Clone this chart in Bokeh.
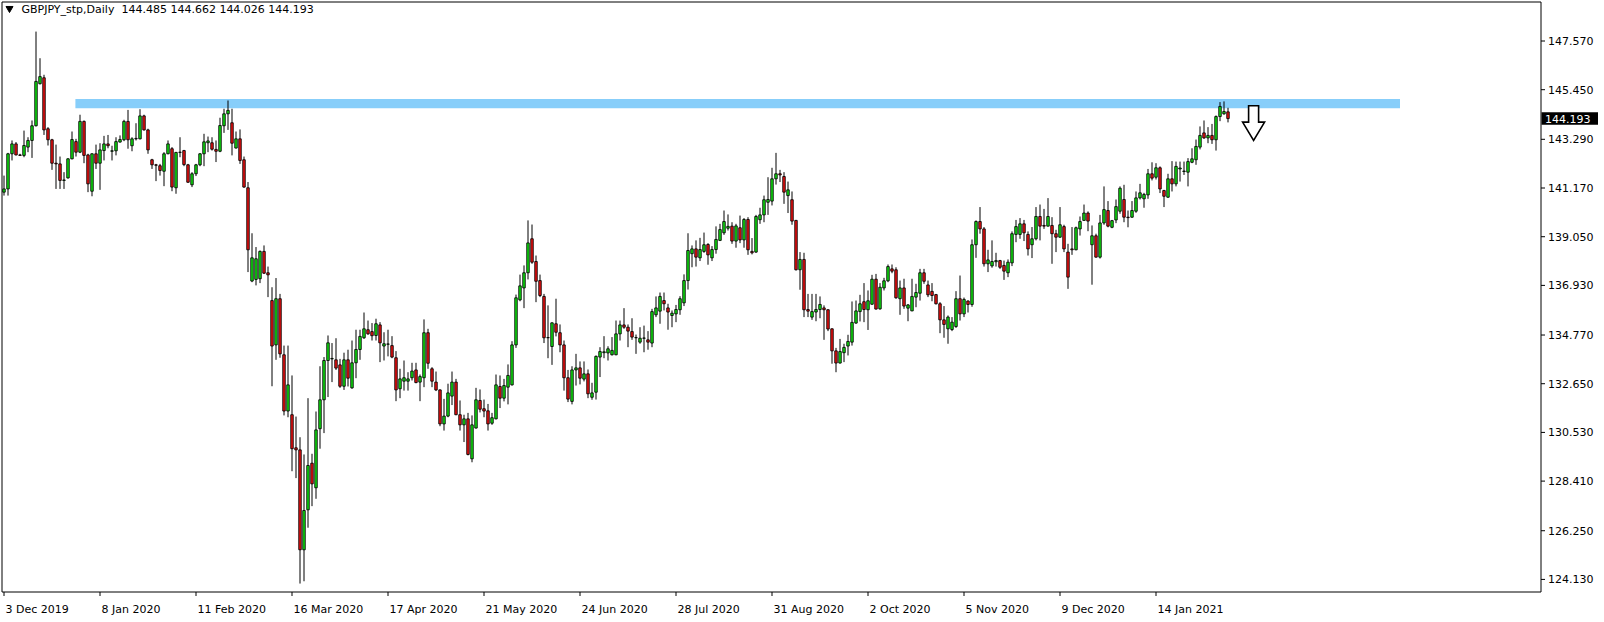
from bokeh.plotting import figure
from bokeh.models import ColumnDataSource, Range1d
from bokeh.core.properties import value
from bokeh.embed import file_html
from bokeh.resources import INLINE

symbol = "GBPJPY_stp,Daily"
last_ohlc = [144.485, 144.662, 144.026, 144.193]

opens = [140.99,141.13,142.66,143.09,142.61,142.59,142.95,143.24,143.88,145.71,
145.97,143.75,143.27,142.25,142.22,141.50,141.61,142.44,143.19,142.73,
144.07,142.61,141.03,142.66,142.25,142.80,143.09,142.77,142.79,143.17,
143.27,144.07,143.01,143.31,143.31,144.31,143.70,142.40,142.18,142.14,
141.90,142.66,142.88,141.18,142.72,142.80,142.18,141.31,141.79,142.18,
142.66,143.14,143.14,142.85,142.77,143.88,144.40,144.01,142.91,143.31,
142.40,141.18,137.12,137.19,137.22,138.41,137.48,136.27,134.34,136.35,
133.91,131.46,131.30,129.86,129.77,125.42,127.16,129.19,128.12,130.69,
131.95,133.66,133.73,133.69,133.47,132.54,133.69,132.47,133.56,134.14,
134.65,135.00,134.92,134.75,135.21,134.29,134.37,134.31,133.78,132.43,
132.76,132.76,132.91,133.25,132.72,132.91,134.87,133.30,132.72,132.38,
130.90,131.24,132.11,132.72,131.30,130.86,131.12,129.38,130.72,131.92,
131.56,131.47,130.93,131.12,132.53,132.02,132.50,132.60,134.34,136.30,
136.82,137.48,138.96,137.97,137.14,136.45,134.65,134.27,135.26,134.87,
134.34,132.91,131.88,133.25,133.34,132.85,133.08,132.06,132.28,133.81,
134.00,133.99,133.91,133.91,134.82,135.21,135.11,134.92,134.65,134.46,
134.63,134.56,134.42,135.65,135.81,136.27,135.95,135.62,135.69,135.87,
136.17,137.14,138.31,138.52,138.13,138.41,138.71,138.13,138.49,138.89,
139.22,139.42,139.51,138.86,139.44,138.91,139.80,138.41,138.38,139.79,
140.00,140.55,140.60,141.57,141.79,141.67,140.84,140.66,139.76,137.61,
138.06,135.88,135.55,135.77,135.88,135.95,135.87,135.04,134.08,133.55,
134.00,134.29,134.46,135.29,135.79,136.22,135.87,136.11,137.20,135.91,
136.82,137.13,137.65,137.61,136.35,136.82,135.94,135.82,136.42,136.59,
137.48,136.95,136.67,136.53,136.13,135.43,135.04,135.01,135.14,136.35,
135.69,136.25,136.10,138.70,139.71,139.39,137.87,137.78,137.96,138.01,
137.80,137.48,137.91,139.15,139.15,139.61,139.15,138.70,138.96,139.93,
139.54,139.51,139.54,139.18,139.03,139.49,138.38,138.52,138.48,139.39,
139.76,140.08,138.70,139.09,138.16,139.65,140.19,139.46,139.78,140.16,
140.67,139.90,139.90,140.16,140.74,140.70,140.87,141.79,141.64,142.05,
141.06,140.77,141.57,141.35,142.00,141.89,141.86,142.29,142.40,142.95,
143.57,143.35,143.46,143.27,144.28,144.40,144.485]

highs = [141.71,142.70,143.24,143.17,142.66,143.67,143.38,144.11,147.98,146.82,
146.10,143.82,143.31,143.06,142.54,141.86,142.47,143.63,143.31,144.36,
144.11,142.66,142.68,143.06,143.12,143.44,143.48,143.01,143.38,143.46,
144.14,144.57,143.38,143.99,144.60,144.36,143.75,142.44,142.22,142.22,
142.73,143.24,142.95,142.74,143.38,142.83,142.22,141.86,142.22,142.69,
143.53,143.41,143.38,143.24,144.23,144.62,144.98,144.62,143.63,143.72,
142.54,141.43,139.20,138.60,138.45,138.67,137.75,136.85,137.25,136.56,
134.31,134.31,133.01,131.22,130.32,129.57,132.02,129.60,131.44,133.41,
133.81,134.75,134.42,134.63,133.73,134.00,134.13,134.53,135.00,135.00,
135.75,135.40,135.29,135.48,135.33,134.89,135.00,134.72,134.07,133.30,
133.66,133.15,133.56,133.56,133.05,135.45,135.04,133.37,133.18,132.40,
131.99,132.65,133.18,132.86,131.92,131.30,131.38,131.27,132.47,132.40,
131.96,131.77,131.38,133.05,133.01,132.86,133.49,134.50,136.53,137.40,
137.80,139.76,139.58,138.23,137.40,136.56,136.06,135.32,136.35,135.23,
134.53,133.25,133.41,133.95,133.62,133.62,133.27,132.69,133.88,134.24,
134.72,134.28,134.68,135.40,135.40,135.94,135.23,135.50,134.79,135.11,
135.18,134.94,135.91,136.45,136.62,136.62,136.13,135.84,136.08,136.46,
137.41,139.20,138.67,138.89,139.00,139.23,138.77,138.64,139.50,139.61,
140.19,140.02,139.68,139.61,139.97,139.86,139.90,138.99,140.00,140.31,
140.84,141.64,142.05,142.70,141.96,141.86,141.45,141.02,139.78,138.38,
138.35,136.56,136.56,136.56,136.45,136.06,135.89,135.06,134.21,134.60,
134.39,134.78,136.23,136.27,136.52,137.03,136.71,137.39,137.43,137.03,
137.26,137.84,137.84,137.72,137.14,137.22,136.12,137.22,137.00,137.65,
137.65,137.14,137.03,136.56,136.20,136.03,135.62,135.55,136.68,137.36,
136.40,136.28,138.93,139.76,140.34,139.47,138.48,138.89,138.35,138.04,
138.01,138.06,139.28,139.78,139.86,139.78,139.28,139.47,140.34,140.45,
140.26,140.73,139.90,139.35,140.34,139.57,138.74,139.47,139.49,139.93,
140.45,140.15,139.54,139.18,140.00,141.24,140.60,139.78,140.67,141.24,
141.31,140.19,140.60,141.02,141.35,140.96,142.00,142.29,142.25,142.11,
141.09,141.79,142.34,142.32,142.32,142.32,142.47,142.90,143.28,143.85,
144.11,143.82,143.96,144.33,144.91,144.94,144.662]

lows = [140.84,140.84,142.37,142.59,142.57,142.51,142.73,142.48,143.85,145.68,
143.48,143.02,141.96,141.13,141.13,141.13,141.58,142.42,142.54,142.69,
142.25,140.99,140.81,142.00,141.09,142.37,142.90,142.37,142.59,143.15,
143.21,142.88,142.77,143.24,143.29,143.67,142.66,142.00,141.47,141.71,
141.25,142.64,141.03,140.92,142.51,142.12,141.40,141.21,141.69,142.12,
142.12,142.73,142.80,142.30,142.73,143.57,143.70,142.59,142.89,142.22,
141.18,137.51,137.07,136.93,137.03,137.43,136.42,132.54,133.69,133.78,
131.27,131.19,128.84,128.54,123.95,124.05,126.38,127.32,127.64,129.82,
130.50,132.07,132.72,133.25,132.47,132.38,132.53,132.43,132.89,133.69,
134.60,134.78,134.53,134.53,133.59,133.66,133.84,133.76,131.89,132.02,
132.35,132.35,132.79,132.67,131.89,132.50,133.30,132.50,132.33,130.80,
130.61,131.19,131.72,131.28,130.61,130.11,129.53,129.23,130.70,131.40,
131.19,130.61,130.86,131.10,131.59,131.88,131.75,132.57,134.21,136.24,
135.94,137.19,137.87,136.20,136.42,134.42,133.76,133.47,134.71,134.02,
132.35,131.85,131.75,132.57,132.62,132.75,132.02,131.95,131.96,132.94,
133.76,133.66,133.88,133.89,134.53,135.04,134.24,134.56,133.95,134.39,
134.02,134.13,134.24,135.55,135.26,135.84,135.00,135.11,135.33,135.65,
136.03,136.75,137.72,137.75,137.99,138.35,137.83,137.99,138.31,138.86,
139.13,139.32,138.74,138.57,138.77,138.57,138.26,138.28,138.35,139.61,
139.68,140.00,140.41,141.32,141.43,140.48,140.08,139.57,137.58,136.74,
135.55,135.55,135.43,135.37,135.50,134.56,134.94,133.52,133.15,133.53,
133.59,133.88,134.31,135.26,135.36,135.33,134.99,136.09,135.88,135.87,
136.71,137.07,137.46,136.35,135.65,135.91,135.37,135.81,135.98,136.27,
137.00,136.42,136.24,136.10,134.85,134.65,134.39,134.94,135.08,135.40,
135.55,135.75,136.00,138.13,139.18,137.75,137.51,137.70,137.75,137.65,
137.17,137.29,137.77,138.81,138.96,138.86,138.23,138.12,138.89,138.89,
139.39,139.50,137.87,138.38,139.00,138.38,136.78,138.26,138.46,139.10,
139.74,139.29,136.96,138.14,138.10,139.57,139.46,139.42,139.64,140.05,
139.68,139.46,139.87,140.09,140.67,140.31,140.70,141.50,141.54,140.95,
140.34,140.74,141.02,141.24,141.45,141.74,141.24,142.25,142.18,142.85,
143.31,143.12,143.09,142.80,144.08,144.36,144.026]

closes = [141.13,142.66,143.09,142.61,142.59,143.02,143.24,143.88,145.81,146.02,
143.70,143.27,142.25,142.22,141.50,141.52,142.44,143.28,142.73,144.07,
142.59,141.35,142.66,142.25,142.83,143.09,143.01,142.79,143.19,143.28,
144.07,143.27,143.31,143.33,144.31,143.70,142.83,142.18,142.16,141.93,
142.66,143.09,141.21,142.72,142.73,142.19,141.42,141.79,142.18,142.66,
143.18,143.22,142.86,142.77,143.89,144.40,144.55,143.12,143.31,142.37,
141.21,138.48,138.13,138.09,138.41,137.46,137.39,134.29,136.35,133.95,
131.46,132.60,129.82,129.77,125.42,127.13,129.09,128.29,130.64,131.95,
133.66,134.43,133.75,133.33,132.54,133.69,132.89,133.56,134.14,134.71,
135.04,134.82,134.74,135.26,134.43,134.39,134.38,133.81,132.38,132.86,
132.91,132.86,133.20,132.70,132.96,134.87,133.54,132.76,132.38,130.90,
131.24,132.25,132.72,131.30,130.86,131.12,129.57,130.86,131.95,131.54,
131.46,130.90,131.17,132.60,132.02,132.57,133.01,134.34,136.39,136.91,
137.48,138.78,137.94,137.11,136.49,134.65,134.66,135.30,134.89,134.34,
132.91,131.98,133.25,133.34,132.89,133.08,132.21,132.25,133.84,134.05,
134.04,134.17,134.10,134.82,135.21,135.11,134.94,134.68,134.66,134.63,
134.64,134.46,135.79,135.95,136.45,136.13,135.77,135.72,135.88,136.35,
137.14,138.45,138.52,138.16,138.49,138.70,138.26,138.49,138.93,139.36,
139.71,139.50,138.86,139.52,138.91,139.80,138.48,138.35,139.93,140.00,
140.66,140.67,141.57,141.79,141.74,140.99,141.09,139.73,137.61,138.06,
135.87,135.81,135.79,135.88,136.10,135.87,135.03,134.08,133.55,134.05,
134.23,134.49,135.32,135.82,136.13,135.88,136.26,137.20,135.90,136.85,
137.13,137.75,137.55,136.39,136.82,136.03,136.08,136.45,136.62,137.48,
137.11,136.52,136.49,136.13,135.43,135.23,135.55,135.33,136.35,135.69,
136.32,136.10,138.70,139.71,139.39,137.87,138.04,137.97,138.01,137.72,
137.55,137.94,139.18,139.49,139.61,139.22,138.52,138.96,139.93,139.51,
139.51,139.93,139.18,139.03,139.57,138.52,137.29,138.48,139.44,139.71,
140.08,139.73,139.09,138.16,139.65,140.23,139.51,139.75,140.36,141.16,
139.90,139.88,140.19,140.74,140.96,140.89,141.79,141.60,142.05,141.13,
140.81,141.57,141.35,142.11,142.04,141.91,142.32,142.44,142.98,143.46,
143.35,143.46,143.27,144.28,144.72,144.50,144.193]

date_labels = ["3 Dec 2019", "8 Jan 2020", "11 Feb 2020", "16 Mar 2020", "17 Apr 2020",
               "21 May 2020", "24 Jun 2020", "28 Jul 2020", "31 Aug 2020", "2 Oct 2020",
               "5 Nov 2020", "9 Dec 2020", "14 Jan 2021"]
date_label_bars = [0, 24, 48, 72, 96, 120, 144, 168, 192, 216, 240, 264, 288]
price_ticks = [147.570, 145.450, 143.290, 141.170, 139.050, 136.930,
               134.770, 132.650, 130.530, 128.410, 126.250, 124.130]

# resistance zone and arrow annotation (bar index / price units)
zone_bars = [17.85, 349.0]
zone_prices = [144.64, 145.04]
arrow_bar = 312.4
arrow_prices = [144.75, 143.24]

# ---- layout (pixel scale of the MetaTrader chart) ----
W, H = 1600, 618
PX_BAR = 4.0          # pixels per bar
PX_YEN = 22.97        # pixels per yen
X0 = -3.5 / PX_BAR                    # left canvas edge in bar units
X1 = X0 + W / PX_BAR
Y1 = 147.57 + 40.5 / PX_YEN           # top canvas edge in price units
Y0 = Y1 - H / PX_YEN
FR_L, FR_R = X0 + 1.5 / PX_BAR, X0 + 1540.5 / PX_BAR     # chart border
FR_T, FR_B = Y1 - 1.5 / PX_YEN, Y1 - 591.5 / PX_YEN

BULL = "#10e010"
BEAR = "#ea1010"
FONT = "DejaVu Sans"
FS = "11px"

n = len(opens)
bars = list(range(n))
src = ColumnDataSource(dict(
    x=bars, h=highs, l=lows,
    top=[max(a, b) for a, b in zip(opens, closes)],
    bot=[min(a, b) for a, b in zip(opens, closes)],
    color=[BULL if c > o else (BEAR if c < o else "black") for o, c in zip(opens, closes)],
))

p = figure(width=W, height=H, x_range=Range1d(X0, X1), y_range=Range1d(Y0, Y1),
           x_axis_location=None, y_axis_location=None,
           toolbar_location=None, output_backend="svg",
           min_border_left=0, min_border_top=0, min_border_right=0, min_border_bottom=0)
p.outline_line_color = None
p.xgrid.visible = False
p.ygrid.visible = False
p.background_fill_color = "white"
p.border_fill_color = "white"

# resistance zone
p.quad(left=zone_bars[0], right=zone_bars[1], bottom=zone_prices[0], top=zone_prices[1],
       fill_color="#87cefa", line_color=None)

# candles
p.segment(x0="x", y0="l", x1="x", y1="h", source=src, line_color="black", line_width=1)
p.vbar(x="x", width=2.5 / PX_BAR, top="top", bottom="bot", source=src,
       fill_color="color", line_color="black", line_width=0.85)

# hollow down arrow
ah, ab = arrow_prices
shaft_w, head_w = 5.0 / PX_BAR, 11.0 / PX_BAR
mid = ah - (ah - ab) * 0.47
p.patch([arrow_bar - shaft_w, arrow_bar + shaft_w, arrow_bar + shaft_w, arrow_bar + head_w,
         arrow_bar, arrow_bar - head_w, arrow_bar - shaft_w],
        [ah, ah, mid, mid, ab, mid, mid],
        fill_color="white", line_color="black", line_width=1.6, line_join="miter")

# chart border
p.quad(left=FR_L, right=FR_R, bottom=FR_B, top=FR_T, fill_color=None,
       line_color="black", line_width=1)

# price scale (right)
tick_len_x = 4.0 / PX_BAR
p.segment(x0=[FR_R] * len(price_ticks), y0=price_ticks,
          x1=[FR_R + tick_len_x] * len(price_ticks), y1=price_ticks,
          line_color="black", line_width=1)
p.text(x=[FR_R + 7.0 / PX_BAR] * len(price_ticks), y=price_ticks,
       text=["%.3f" % v for v in price_ticks], text_align="left", text_baseline="middle",
       text_font=value(FONT), text_font_size=value(FS), text_color="black")

# current price marker
half_box = 6.3 / PX_YEN
p.quad(left=FR_R + 0.5 / PX_BAR, right=FR_R + 57.0 / PX_BAR,
       bottom=last_ohlc[3] - half_box, top=last_ohlc[3] + half_box,
       fill_color="black", line_color=None)
p.text(x=[FR_R + 4.0 / PX_BAR], y=[last_ohlc[3]], text=["%.3f" % last_ohlc[3]],
       text_align="left", text_baseline="middle",
       text_font=value(FONT), text_font_size=value(FS), text_color="white")

# time scale (bottom)
tick_len_y = 4.0 / PX_YEN
p.segment(x0=date_label_bars, y0=[FR_B] * len(date_label_bars),
          x1=date_label_bars, y1=[FR_B - tick_len_y] * len(date_label_bars),
          line_color="black", line_width=1)
p.text(x=[b + 1.5 / PX_BAR for b in date_label_bars], y=[FR_B - 17.5 / PX_YEN] * len(date_label_bars),
       text=date_labels, text_align="left", text_baseline="middle",
       text_font=value(FONT), text_font_size=value(FS), text_color="black")

# header
p.scatter(x=[X0 + 9.0 / PX_BAR], y=[Y1 - 8.0 / PX_YEN], marker="inverted_triangle",
          size=7, fill_color="black", line_color="black")
header = symbol + "\u00a0\u00a0" + " ".join("%.3f" % v for v in last_ohlc)
p.text(x=[X0 + 21.0 / PX_BAR], y=[Y1 - 9.0 / PX_YEN], text=[header],
       text_align="left", text_baseline="middle",
       text_font=value(FONT), text_font_size=value(FS), text_color="black")

open("out.html", "w").write(file_html(p, INLINE))
